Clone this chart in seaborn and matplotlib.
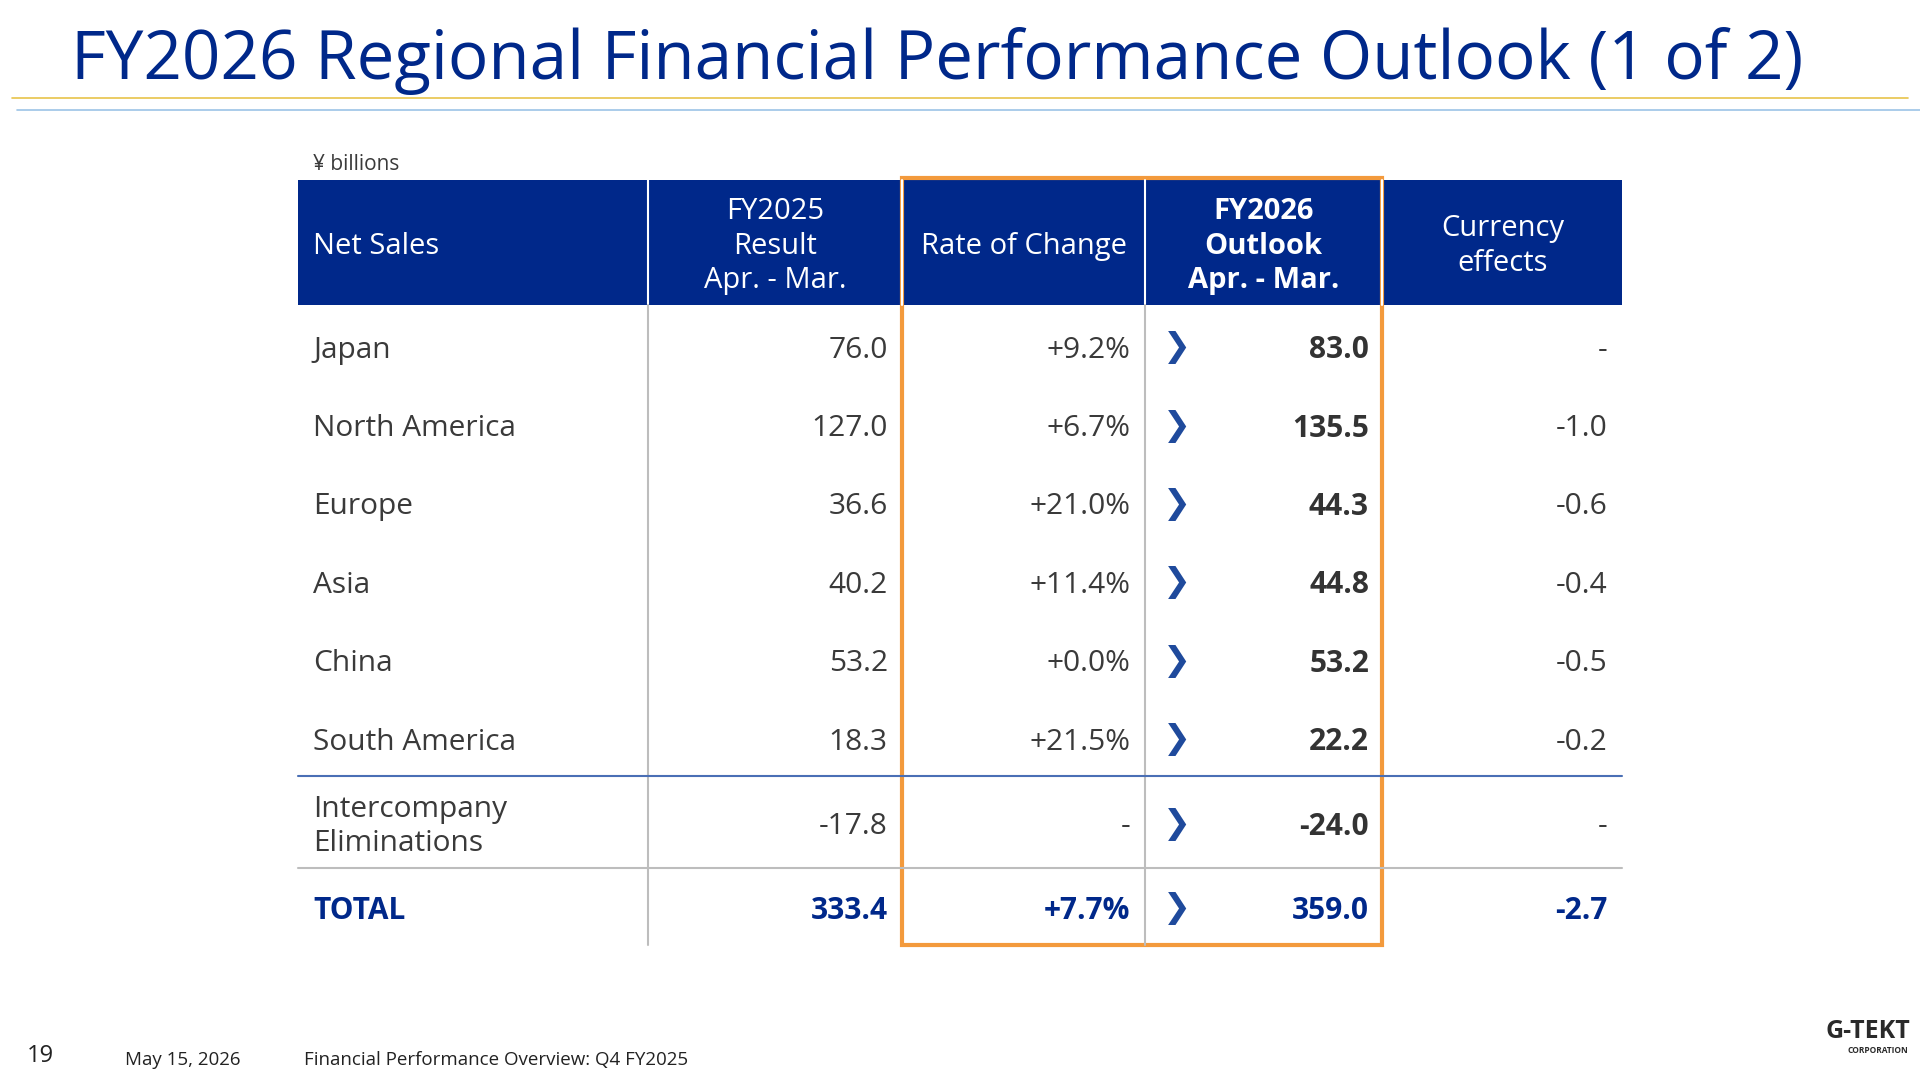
import matplotlib
matplotlib.use("Agg")
import matplotlib.pyplot as plt
import seaborn as sns

regions = ["Japan", "North America", "Europe", "Asia", "China", "South America",
           "Intercompany\nEliminations", "TOTAL"]
fy2025 = ["76.0", "127.0", "36.6", "40.2", "53.2", "18.3", "-17.8", "333.4"]
rate = ["+9.2%", "+6.7%", "+21.0%", "+11.4%", "+0.0%", "+21.5%", "-", "+7.7%"]
fy2026 = ["83.0", "135.5", "44.3", "44.8", "53.2", "22.2", "-24.0", "359.0"]
currency = ["-", "-1.0", "-0.6", "-0.4", "-0.5", "-0.2", "-", "-2.7"]
headers = ["Net Sales", "FY2025\nResult\nApr. - Mar.", "Rate of Change",
           "FY2026\nOutlook\nApr. - Mar.", "Currency\neffects"]

sns.set_theme(style="white")
plt.rcParams["font.family"] = ["Open Sans", "DejaVu Sans"]

NAVY = "#00288a"
TXT = "#3a3a3a"

fig = plt.figure(figsize=(19.2, 10.8), dpi=100)
ax = fig.add_axes([0, 0, 1, 1])
ax.set_xlim(0, 1568)
ax.set_ylim(882, 0)
ax.axis("off")

# title and rules
ax.text(58, 50, "FY2026 Regional Financial Performance Outlook (1 of 2)", fontsize=48.5,
        color=NAVY, va="center", ha="left")
ax.plot([10, 1558], [80, 80], color="#e8c34a", lw=1.2)
ax.plot([14, 1568], [90, 90], color="#9cc3e6", lw=1.2)
ax.text(256, 134, "¥ billions", fontsize=15, color=TXT, va="center")

cols = [243, 529, 737, 935, 1129, 1325]
row_y = [286, 350, 414, 478, 542, 606, 675, 744]

# header
ax.add_patch(plt.Rectangle((243, 147), 1325 - 243, 102, color=NAVY, lw=0))
for x in cols[1:-1]:
    ax.plot([x, x], [147, 249], color="white", lw=1.5)
hcx = [256, 633, 836, 1032, 1227]
for i, h in enumerate(headers):
    ax.text(hcx[i], 201, h, color="white", fontsize=21, ha="left" if i == 0 else "center",
            va="center", linespacing=1.25, fontweight="bold" if i == 3 else "normal")

# grid lines
for x in (529, 935):
    ax.plot([x, x], [249, 772], color="#bdbdbd", lw=1.5)
ax.plot([243, 1325], [634, 634], color="#4a6fb5", lw=1.5)
ax.plot([243, 1325], [709, 709], color="#bdbdbd", lw=1.5)

# rows
for i, y in enumerate(row_y):
    total = regions[i] == "TOTAL"
    c = NAVY if total else TXT
    w = "bold" if total else "normal"
    ax.text(256, y, regions[i], fontsize=21.5, color=c, fontweight=w, va="center",
            linespacing=1.25)
    ax.text(725, y, fy2025[i], fontsize=21.5, color=c, fontweight=w, va="center", ha="right")
    ax.text(923, y, rate[i], fontsize=21.5, color=c, fontweight=w, va="center", ha="right")
    ax.text(1118, y, fy2026[i], fontsize=21.5, color=NAVY if total else "#333333",
            fontweight="bold", va="center", ha="right")
    ax.text(1313, y, currency[i], fontsize=21.5, color=c, fontweight=w, va="center", ha="right")
    ax.text(961, y - 2, "❯", fontsize=24, color="#1f4a9c", fontweight="bold",
            va="center", ha="center", family="DejaVu Sans")

# orange highlight
ax.add_patch(plt.Rectangle((737, 145), 1129 - 737, 627, fill=False,
                           edgecolor="#f39a3c", lw=3))

# footer
ax.text(22, 862, "19", fontsize=17, color="#222222", va="center")
ax.text(102, 866, "May 15, 2026", fontsize=13.5, color="#222222", va="center")
ax.text(248, 866, "Financial Performance Overview: Q4 FY2025", fontsize=13.5,
        color="#222222", va="center")
ax.text(1560, 842, "G-TEKT", fontsize=18, color="#2a2a2a", fontweight="bold",
        ha="right", va="center")
ax.text(1558, 858, "CORPORATION", fontsize=6, color="#2a2a2a", fontweight="bold",
        ha="right", va="center")

fig.savefig("out.png", dpi=100)
